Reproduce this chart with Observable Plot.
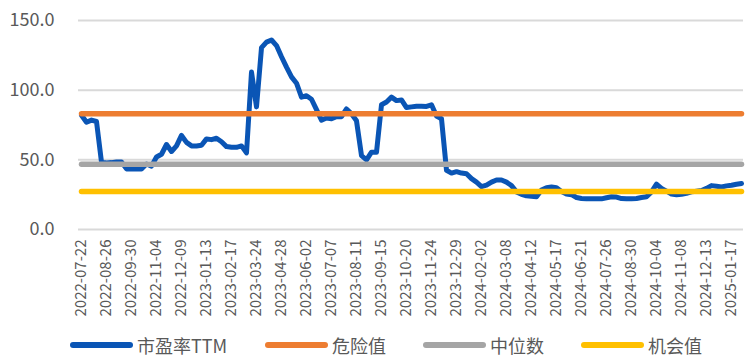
<!DOCTYPE html>
<html>
<head>
<meta charset="utf-8">
<script src="https://cdn.jsdelivr.net/npm/d3@7"></script>
<script src="https://cdn.jsdelivr.net/npm/@observablehq/plot@0.6"></script>
<style>
  html, body { margin: 0; padding: 0; background: #fff; }
  body { width: 747px; height: 364px; position: relative; overflow: hidden; font-family: "Noto Sans CJK SC", "Noto Sans", sans-serif; }
  #chart { position: absolute; left: 0; top: 0; }
  .legend { position: absolute; top: 333px; height: 24px; display: flex; align-items: center; font-size: 18px; color: #595959; white-space: nowrap; }
  .legend .sw { width: 63px; height: 5.5px; border-radius: 3px; margin-right: 4px; }
</style>
</head>
<body>
<div id="chart"></div>
<script>
const dates = [
  "2022-07-22","2022-07-29","2022-08-05","2022-08-12","2022-08-19","2022-08-26","2022-09-02","2022-09-09","2022-09-16","2022-09-23",
  "2022-09-30","2022-10-07","2022-10-14","2022-10-21","2022-10-28","2022-11-04","2022-11-11","2022-11-18","2022-11-25","2022-12-02",
  "2022-12-09","2022-12-16","2022-12-23","2022-12-30","2023-01-06","2023-01-13","2023-01-20","2023-01-27","2023-02-03","2023-02-10",
  "2023-02-17","2023-02-24","2023-03-03","2023-03-10","2023-03-17","2023-03-24","2023-03-31","2023-04-07","2023-04-14","2023-04-21",
  "2023-04-28","2023-05-05","2023-05-12","2023-05-19","2023-05-26","2023-06-02","2023-06-09","2023-06-16","2023-06-23","2023-06-30",
  "2023-07-07","2023-07-14","2023-07-21","2023-07-28","2023-08-04","2023-08-11","2023-08-18","2023-08-25","2023-09-01","2023-09-08",
  "2023-09-15","2023-09-22","2023-09-29","2023-10-06","2023-10-13","2023-10-20","2023-10-27","2023-11-03","2023-11-10","2023-11-17",
  "2023-11-24","2023-12-01","2023-12-08","2023-12-15","2023-12-22","2023-12-29","2024-01-05","2024-01-12","2024-01-19","2024-01-26",
  "2024-02-02","2024-02-09","2024-02-16","2024-02-23","2024-03-01","2024-03-08","2024-03-15","2024-03-22","2024-03-29","2024-04-05",
  "2024-04-12","2024-04-19","2024-04-26","2024-05-03","2024-05-10","2024-05-17","2024-05-24","2024-05-31","2024-06-07","2024-06-14",
  "2024-06-21","2024-06-28","2024-07-05","2024-07-12","2024-07-19","2024-07-26","2024-08-02","2024-08-09","2024-08-16","2024-08-23",
  "2024-08-30","2024-09-06","2024-09-13","2024-09-20","2024-09-27","2024-10-04","2024-10-11","2024-10-18","2024-10-25","2024-11-01",
  "2024-11-08","2024-11-15","2024-11-22","2024-11-29","2024-12-06","2024-12-13","2024-12-20","2024-12-27","2025-01-03","2025-01-10",
  "2025-01-17","2025-01-24","2025-01-31"
];

const peTTM = [
  82, 77, 78.5, 77.5, 48.3, 47.8, 48, 48.5, 48.5, 43.5,
  43.5, 43.5, 43.5, 47, 45.5, 52, 54, 61, 56, 60,
  67.5, 62.5, 60, 60, 60.5, 65, 64.5, 65.5, 63, 59.5,
  59, 59, 60, 55, 113, 88, 130.5, 134.5, 136, 132,
  124, 116.5, 109.5, 105, 95, 96, 93.5, 86, 78.5, 80,
  79.5, 81, 81, 86.5, 83, 78, 53, 50, 55.5, 55.5,
  89.5, 91.5, 95, 92.5, 93, 87.5, 88, 88.5, 88.5, 88.3,
  89.5, 81.5, 79.5, 42.5, 40.5, 41.5, 40.5, 40, 36.5, 34,
  30.8, 31.8, 34, 35.5, 35.5, 34, 31.5, 27, 25.3, 24.2,
  23.8, 23.5, 28.3, 30, 30.5, 30, 27.3, 25.5, 25, 23,
  22.3, 22, 22, 22, 22, 22.8, 23.5, 23.3, 22.2, 22,
  22, 22.3, 23, 23.5, 27, 32.5, 29.5, 27.5, 25.5, 25,
  25.3, 26, 27, 27.5, 28, 29.5, 31.5, 31, 30.5, 31.3,
  31.8, 32.5, 33
];

const dangerValue = 83.1;      // 危险值
const medianValue = 46.8;      // 中位数
const opportunityValue = 27.2; // 机会值

const yTicks = [0, 50, 100, 150];
const xTicks = dates.filter((d, i) => i % 5 === 0);

const seriesNames = ["市盈率TTM", "危险值", "中位数", "机会值"];
const seriesColors = ["#0a55b5", "#ed7d31", "#a5a5a5", "#ffc000"];

const peRows = dates.map((d, i) => ({date: d, value: peTTM[i]}));
const refLine = (v) => dates.map(d => ({date: d, value: v}));

const chart = Plot.plot({
  width: 747,
  height: 320,
  marginLeft: 78,
  marginRight: 4,
  marginTop: 20,
  marginBottom: 91,
  style: {fontFamily: "'Noto Sans CJK SC', 'Noto Sans', sans-serif", color: "#595959", background: "#fff"},
  x: {type: "point", domain: dates, padding: 0.5, label: null},
  y: {domain: [0, 150], label: null},
  marks: [
    Plot.ruleY(yTicks, {stroke: "#d9d9d9", strokeWidth: 2}),
    Plot.axisY({ticks: yTicks, tickSize: 0, tickPadding: 24, tickFormat: d3.format(".1f"), fontSize: 18, fill: "#595959", label: null}),
    Plot.axisX({ticks: xTicks, tickSize: 0, tickPadding: 10, tickRotate: -90, fontSize: 15, fill: "#595959", label: null}),
    Plot.lineY(peRows, {x: "date", y: "value", stroke: seriesColors[0], strokeWidth: 5, strokeLinecap: "round", strokeLinejoin: "round"}),
    Plot.lineY(refLine(dangerValue), {x: "date", y: "value", stroke: seriesColors[1], strokeWidth: 5.5, strokeLinecap: "round"}),
    Plot.lineY(refLine(medianValue), {x: "date", y: "value", stroke: seriesColors[2], strokeWidth: 5.5, strokeLinecap: "round"}),
    Plot.lineY(refLine(opportunityValue), {x: "date", y: "value", stroke: seriesColors[3], strokeWidth: 5.5, strokeLinecap: "round"})
  ]
});
document.getElementById("chart").appendChild(chart);

const legendX = [70, 265, 423, 581];
seriesNames.forEach((name, i) => {
  const item = document.createElement("div");
  item.className = "legend";
  item.style.left = legendX[i] + "px";
  const sw = document.createElement("div");
  sw.className = "sw";
  sw.style.background = seriesColors[i];
  const label = document.createElement("span");
  label.textContent = name;
  item.appendChild(sw);
  item.appendChild(label);
  document.body.appendChild(item);
});
</script>
</body>
</html>
